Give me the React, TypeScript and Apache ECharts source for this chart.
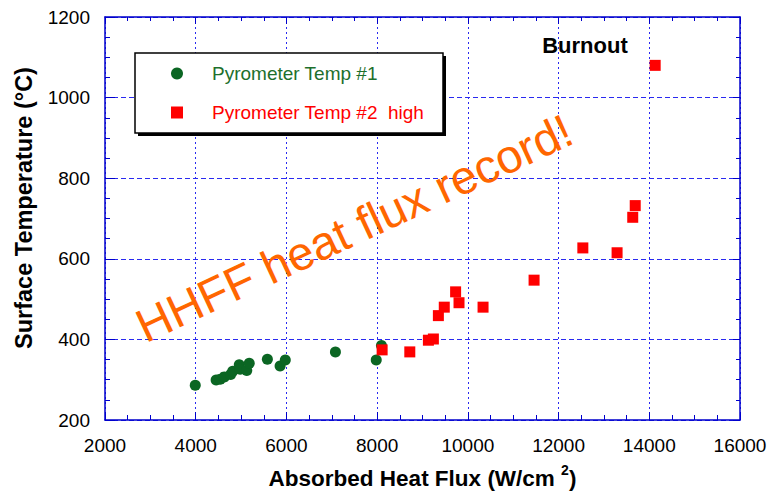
import React, { useEffect, useRef } from 'react';
import * as echarts from 'echarts';

// Absorbed heat flux (W/cm^2) and surface temperature (°C)
const pyro1Flux = [3990, 4450, 4540, 4630, 4770, 4815, 4960, 4980, 5125, 5180, 5580, 5860, 5975, 7080, 7980, 8095];
const pyro1Temp = [286, 299, 301, 307, 313, 321, 337, 326, 323, 341, 351, 334, 349, 369, 349, 385];

const pyro2Flux = [8110, 8720, 9130, 9240, 9350, 9480, 9730, 9805, 10335, 11460, 12535, 13290, 13635, 13690, 14130];
const pyro2Temp = [374, 369, 398, 401, 459, 480, 518, 491, 480, 547, 627, 615, 703, 732, 1080];

const seriesNames = ['Pyrometer Temp #1', 'Pyrometer Temp #2  high'];
const xTitle = 'Absorbed Heat Flux (W/cm ';
const xTitleSup = '2';
const yTitle = 'Surface Temperature (°C)';
const noteText = 'HHFF heat flux record!';
const burnoutText = 'Burnout';

const FONT = 'Liberation Sans, Arial, Helvetica, sans-serif';
const GREEN = '#0b6623';
const GREEN_TEXT = '#1d6f2c';
const RED = '#ff0000';
const ORANGE = '#ff6600';
const AXIS_BLUE = '#0000cc';
const GRID_BLUE = '#2a2af0';

export default function App() {
  const ref = useRef<HTMLDivElement>(null);

  useEffect(() => {
    if (!ref.current) return;
    const chart = echarts.init(ref.current, undefined, { renderer: 'svg' });

    const pyro1 = pyro1Flux.map((x, i) => [x, pyro1Temp[i]]);
    const pyro2 = pyro2Flux.map((x, i) => [x, pyro2Temp[i]]);
    const plain = (v: number) => String(v);

    const frameAxisCommon = {
      axisLine: { show: true, onZero: false, lineStyle: { color: AXIS_BLUE, width: 1.5 } },
      axisTick: { show: true, inside: true, length: 7, lineStyle: { color: AXIS_BLUE } },
      minorTick: { show: true, splitNumber: 4, length: 4, lineStyle: { color: AXIS_BLUE } },
    };

    chart.setOption({
      animation: false,
      backgroundColor: '#ffffff',
      grid: { left: 105, right: 30, top: 17, bottom: 78, containLabel: false },
      legend: {
        orient: 'vertical',
        left: 135,
        top: 53,
        padding: [11, 17, 11, 36],
        itemWidth: 12,
        itemHeight: 12,
        itemGap: 20,
        z: 10,
        textStyle: { fontSize: 19, fontFamily: FONT, padding: [0, 0, 0, 24] },
        data: [
          { name: seriesNames[0], icon: 'circle', textStyle: { color: GREEN_TEXT } },
          { name: seriesNames[1], icon: 'rect', textStyle: { color: RED } },
        ],
      },
      xAxis: [
        {
          type: 'value',
          min: 2000,
          max: 16000,
          interval: 2000,
          position: 'bottom',
          ...frameAxisCommon,
          axisTick: { show: true, inside: true, length: 8, lineStyle: { color: AXIS_BLUE } },
          minorTick: { show: true, splitNumber: 4, length: 5, lineStyle: { color: AXIS_BLUE } },
          axisLabel: { fontSize: 19, color: '#000', margin: 16, fontFamily: FONT, formatter: plain },
          splitLine: { show: true, lineStyle: { color: GRID_BLUE, type: [2, 3], width: 1 } },
          name: `{b|${xTitle}}{s|${xTitleSup}}{b|)}`,
          nameLocation: 'middle',
          nameGap: 43,
          nameTextStyle: {
            rich: {
              b: { fontSize: 22.5, fontWeight: 'bold', fontFamily: FONT, color: '#000', lineHeight: 30, verticalAlign: 'middle' },
              s: { fontSize: 14, fontWeight: 'bold', fontFamily: FONT, color: '#000', verticalAlign: 'top', lineHeight: 14 },
            },
          },
        },
        {
          type: 'value',
          min: 2000,
          max: 16000,
          interval: 2000,
          position: 'top',
          ...frameAxisCommon,
          axisLabel: { show: false },
          splitLine: { show: false },
        },
      ],
      yAxis: [
        {
          type: 'value',
          min: 200,
          max: 1200,
          interval: 200,
          position: 'left',
          ...frameAxisCommon,
          axisTick: { show: true, inside: true, length: 10, lineStyle: { color: AXIS_BLUE } },
          minorTick: { show: true, splitNumber: 4, length: 5, lineStyle: { color: AXIS_BLUE } },
          axisLabel: { fontSize: 19, color: '#000', margin: 15, fontFamily: FONT, formatter: plain },
          splitLine: { show: true, lineStyle: { color: GRID_BLUE, type: [5, 3], width: 1 } },
        },
        {
          type: 'value',
          min: 200,
          max: 1200,
          interval: 200,
          position: 'right',
          ...frameAxisCommon,
          axisLabel: { show: false },
          splitLine: { show: false },
        },
      ],
      graphic: [
        { type: 'rect', z: 3, shape: { x: 138, y: 56, width: 308, height: 80 }, style: { fill: '#000' } },
        { type: 'rect', z: 3, shape: { x: 135, y: 53, width: 308, height: 80 }, style: { fill: '#fff', stroke: '#000', lineWidth: 1.5 } },
        {
          type: 'text', z: 5, x: 24, y: 208, rotation: Math.PI / 2,
          style: { text: yTitle, fontSize: 23.5, fontWeight: 'bold', fontFamily: FONT, fill: '#000', align: 'center', verticalAlign: 'middle' },
        },
        {
          type: 'text', z: 5, x: 585, y: 45,
          style: { text: burnoutText, fontSize: 22, fontWeight: 'bold', fontFamily: FONT, fill: '#000', align: 'center', verticalAlign: 'middle' },
        },
        {
          type: 'text', z: 6, x: 354, y: 228, rotation: (25 * Math.PI) / 180,
          style: { text: noteText, fontSize: 47, fontFamily: FONT, fill: ORANGE, align: 'center', verticalAlign: 'middle' },
        },
      ],
      series: [
        {
          type: 'scatter',
          name: seriesNames[0],
          xAxisIndex: 0,
          yAxisIndex: 0,
          symbol: 'circle',
          symbolSize: 11,
          itemStyle: { color: GREEN, opacity: 1 },
          data: pyro1,
        },
        {
          type: 'scatter',
          name: seriesNames[1],
          xAxisIndex: 0,
          yAxisIndex: 0,
          symbol: 'rect',
          symbolSize: 11,
          itemStyle: { color: RED, opacity: 1 },
          data: pyro2,
        },
      ],
    });

    return () => chart.dispose();
  }, []);

  return (
    <div
      ref={ref}
      style={{ position: 'absolute', left: 0, top: 0, width: 770, height: 498, background: '#fff' }}
    />
  );
}
